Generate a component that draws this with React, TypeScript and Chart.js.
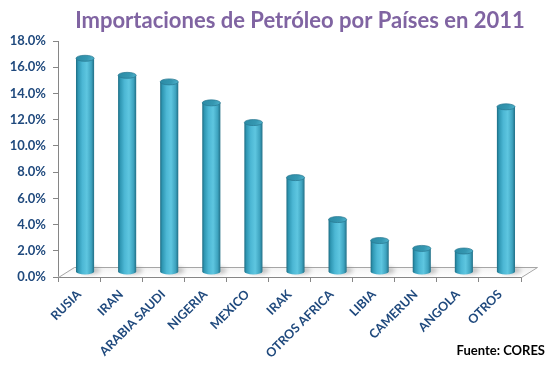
import React, { useEffect, useRef } from "react";
import { Chart, registerables } from "chart.js";

Chart.register(...registerables);

const categories = [
  "RUSIA",
  "IRAN",
  "ARABIA SAUDI",
  "NIGERIA",
  "MEXICO",
  "IRAK",
  "OTROS AFRICA",
  "LIBIA",
  "CAMERUN",
  "ANGOLA",
  "OTROS",
];
const shares = [16.3, 15.0, 14.5, 12.9, 11.4, 7.2, 4.0, 2.4, 1.8, 1.6, 12.6];
const yTicks = [0, 2, 4, 6, 8, 10, 12, 14, 16, 18];
const titleText = "Importaciones de Petróleo por Países en 2011";
const sourceText = "Fuente: CORES";

const FONT = "Lato, 'Open Sans', 'DejaVu Sans', sans-serif";
const NAVY = "#1F497D";
const DEPTH_X = 16;
const DEPTH_Y = -10;

const cylinderPlugin = {
  id: "cylinders",
  beforeDatasetsDraw(chart: any) {
    const { ctx, chartArea } = chart;
    const l = chartArea.left;
    const r = chartArea.right;
    const b = chartArea.bottom;
    ctx.save();
    ctx.beginPath();
    ctx.moveTo(l, b);
    ctx.lineTo(l + DEPTH_X, b + DEPTH_Y);
    ctx.lineTo(r + DEPTH_X, b + DEPTH_Y);
    ctx.lineTo(r, b);
    ctx.closePath();
    const fg = ctx.createLinearGradient(0, b + DEPTH_Y, 0, b);
    fg.addColorStop(0, "#f2f2f2");
    fg.addColorStop(1, "#ffffff");
    ctx.fillStyle = fg;
    ctx.fill();
    ctx.strokeStyle = "#a6a6a6";
    ctx.lineWidth = 1;
    ctx.beginPath();
    ctx.moveTo(l + 0.5, b + 0.5);
    ctx.lineTo(l + DEPTH_X + 0.5, b + DEPTH_Y + 0.5);
    ctx.lineTo(r + DEPTH_X + 0.5, b + DEPTH_Y + 0.5);
    ctx.lineTo(r + 0.5, b + 0.5);
    ctx.stroke();
    ctx.restore();
  },
  afterDatasetsDraw(chart: any) {
    const { ctx } = chart;
    const meta = chart.getDatasetMeta(0);
    const dx = DEPTH_X / 2 - 2;
    const dy = DEPTH_Y / 2;
    ctx.save();
    meta.data.forEach((bar: any) => {
      const p = bar.getProps(["x", "y", "base", "width"], true);
      const cx = p.x + dx;
      const bottom = p.base + dy;
      const rx = p.width / 2;
      ctx.save();
      ctx.filter = "blur(2px)";
      ctx.fillStyle = "rgba(120,120,120,0.45)";
      ctx.beginPath();
      ctx.ellipse(cx + rx * 0.6, bottom - 1, rx * 1.1, 3.5, 0, 0, Math.PI * 2);
      ctx.fill();
      ctx.restore();
    });
    meta.data.forEach((bar: any) => {
      const p = bar.getProps(["x", "y", "base", "width"], true);
      const cx = p.x + dx;
      const top = p.y + dy;
      const bottom = p.base + dy;
      const rx = p.width / 2;
      const ry = 3;
      const g = ctx.createLinearGradient(cx - rx, 0, cx + rx, 0);
      g.addColorStop(0, "#1d6c83");
      g.addColorStop(0.12, "#2f97b3");
      g.addColorStop(0.35, "#4cb7d4");
      g.addColorStop(0.6, "#5ec6e0");
      g.addColorStop(0.85, "#3ea3bf");
      g.addColorStop(1, "#226f86");
      ctx.beginPath();
      ctx.moveTo(cx - rx, top);
      ctx.lineTo(cx - rx, bottom);
      ctx.ellipse(cx, bottom, rx, ry, 0, Math.PI, 0, true);
      ctx.lineTo(cx + rx, top);
      ctx.closePath();
      ctx.fillStyle = g;
      ctx.fill();
      const tg = ctx.createLinearGradient(cx - rx, top - ry, cx + rx, top + ry);
      tg.addColorStop(0, "#2a8aa4");
      tg.addColorStop(0.6, "#3597b1");
      tg.addColorStop(1, "#4fb3cd");
      ctx.beginPath();
      ctx.ellipse(cx, top, rx, ry, 0, 0, Math.PI * 2);
      ctx.fillStyle = tg;
      ctx.fill();
      ctx.strokeStyle = "rgba(40,120,145,0.9)";
      ctx.lineWidth = 0.8;
      ctx.stroke();
    });
    ctx.restore();
  },
  afterDraw(chart: any) {
    const { ctx } = chart;
    ctx.save();
    let size = 21;
    ctx.font = `bold ${size}px ${FONT}`;
    const w = ctx.measureText(titleText).width;
    size = size * (450 / w);
    ctx.font = `bold ${size}px ${FONT}`;
    ctx.fillStyle = "#8064A2";
    ctx.textAlign = "center";
    ctx.textBaseline = "alphabetic";
    ctx.fillText(titleText, 300, 28);
    ctx.font = `bold 13px ${FONT}`;
    ctx.fillStyle = "#000000";
    ctx.textAlign = "right";
    ctx.fillText(sourceText, 545, 355);
    ctx.restore();
  },
};

export default function App() {
  const ref = useRef<HTMLCanvasElement | null>(null);
  useEffect(() => {
    if (!ref.current) return;
    const chart = new Chart(ref.current, {
      type: "bar",
      data: {
        labels: categories,
        datasets: [
          {
            data: shares,
            backgroundColor: "rgba(0,0,0,0)",
            borderWidth: 0,
            barPercentage: 0.43,
            categoryPercentage: 1,
          },
        ],
      },
      options: {
        animation: false,
        responsive: true,
        maintainAspectRatio: false,
        layout: { padding: { top: 41, right: 38, left: 0, bottom: 0 } },
        plugins: {
          legend: { display: false },
          tooltip: { enabled: false },
          title: { display: false },
        },
        scales: {
          x: {
            grid: {
              display: true,
              drawOnChartArea: false,
              tickLength: 5,
              color: "#868686",
              offset: true,
            },
            border: { display: true, color: "#868686" },
            ticks: {
              minRotation: 45,
              maxRotation: 45,
              autoSkip: false,
              color: NAVY,
              font: { family: FONT, size: 12.5, weight: "bold" },
              padding: 5,
            },
            afterFit: (s: any) => {
              s.height = 88;
            },
          },
          y: {
            min: 0,
            max: 18,
            afterBuildTicks: (s: any) => {
              s.ticks = yTicks.map((v) => ({ value: v }));
            },
            grid: {
              display: true,
              drawOnChartArea: false,
              tickLength: 5,
              color: "#868686",
            },
            border: { display: true, color: "#868686" },
            ticks: {
              color: NAVY,
              font: { family: FONT, size: 13, weight: "bold" },
              padding: 7,
              callback: (v: any) => Number(v).toFixed(1) + "%",
            },
            afterFit: (s: any) => {
              s.width = 58;
            },
          },
        },
      },
      plugins: [cylinderPlugin],
    });
    return () => chart.destroy();
  }, []);
  return (
    <div
      style={{
        position: "fixed",
        left: 0,
        top: 0,
        width: 559,
        height: 365,
        background: "#ffffff",
      }}
    >
      <canvas ref={ref} />
    </div>
  );
}
